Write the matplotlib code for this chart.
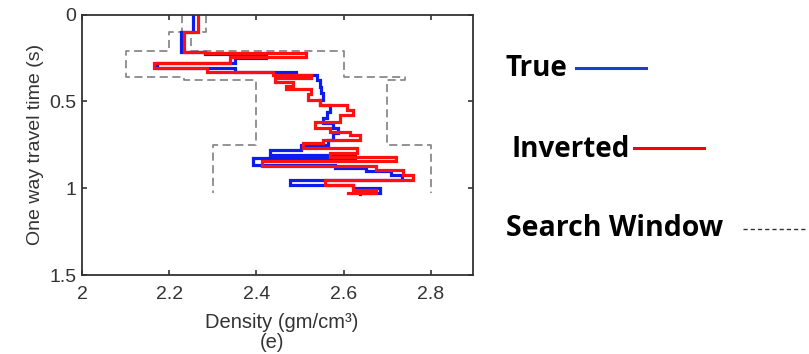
import matplotlib
matplotlib.use("Agg")
import matplotlib.pyplot as plt
import numpy as np

# Layered density profiles: layer top times (s) and layer densities (gm/cm^3)
true_tops = [0.000, 0.103, 0.214, 0.227, 0.252, 0.277, 0.310, 0.329, 0.348, 0.377,
             0.415, 0.453, 0.492, 0.521, 0.559, 0.597, 0.626, 0.655, 0.684, 0.722,
             0.751, 0.779, 0.808, 0.827, 0.866, 0.885, 0.904, 0.923, 0.952, 0.981,
             1.000, 1.025]
true_vals = [2.255, 2.227, 2.282, 2.423, 2.351, 2.171, 2.351, 2.492, 2.540, 2.545,
             2.549, 2.553, 2.545, 2.568, 2.561, 2.553, 2.576, 2.588, 2.576, 2.565,
             2.503, 2.431, 2.626, 2.393, 2.580, 2.652, 2.710, 2.733, 2.477, 2.622,
             2.683, 2.637]
true_end = 1.032

inv_tops = [0.000, 0.103, 0.214, 0.223, 0.246, 0.277, 0.310, 0.329, 0.348, 0.367,
            0.386, 0.411, 0.431, 0.459, 0.492, 0.521, 0.549, 0.578, 0.617, 0.655,
            0.674, 0.693, 0.722, 0.741, 0.770, 0.799, 0.818, 0.843, 0.870, 0.895,
            0.923, 0.952, 0.981, 1.010, 1.025]
inv_vals = [2.267, 2.235, 2.282, 2.515, 2.339, 2.165, 2.286, 2.438, 2.526, 2.442,
            2.484, 2.469, 2.526, 2.519, 2.545, 2.607, 2.622, 2.591, 2.534, 2.568,
            2.614, 2.637, 2.553, 2.507, 2.630, 2.568, 2.721, 2.412, 2.675, 2.736,
            2.759, 2.557, 2.622, 2.675, 2.610]
inv_end = 1.030

# Search window bounds
win_tops = [0.0, 0.10, 0.21, 0.36, 0.38, 0.75]
win_low = [2.23, 2.20, 2.10, 2.235, 2.40, 2.30]
win_high = [2.285, 2.25, 2.60, 2.74, 2.70, 2.80]
win_end = 1.025

x_ticks = [2.0, 2.2, 2.4, 2.6, 2.8]
x_labels = ["2", "2.2", "2.4", "2.6", "2.8"]
y_ticks = [0.0, 0.5, 1.0, 1.5]
y_labels = ["0", "0.5", "1", "1.5"]


def staircase(tops, vals, end):
    bots = list(tops[1:]) + [end]
    xs, ys = [], []
    for v, t0, t1 in zip(vals, tops, bots):
        xs += [v, v]
        ys += [t0, t1]
    return np.array(xs), np.array(ys)


fig = plt.figure(figsize=(8.09, 3.54), dpi=100)
ax = fig.add_axes([82 / 809, 1 - 275 / 354, 391 / 809, 260.5 / 354])

gray = "#8a8a8a"
for bound in (win_low, win_high):
    xs, ys = staircase(win_tops, bound, win_end)
    ax.plot(xs, ys, color=gray, lw=1.3, ls=(0, (4.5, 2.5)))

xs, ys = staircase(true_tops, true_vals, true_end)
ax.plot(xs, ys, color="#0a1cf0", lw=2.3, solid_joinstyle="miter")
xs, ys = staircase(inv_tops, inv_vals, inv_end)
ax.plot(xs, ys, color="#ff1010", lw=2.3, solid_joinstyle="miter")

ax.set_xlim(2.0, 2.897)
ax.set_ylim(1.5, 0.0)
ax.set_xticks(x_ticks)
ax.set_xticklabels(x_labels)
ax.set_yticks(y_ticks)
ax.set_yticklabels(y_labels)
ax.tick_params(direction="in", top=True, right=True, length=3.5, width=1.2,
               labelsize=14, colors="#333333", pad=4)
ax.tick_params(axis="x", pad=8)
for lab in ax.get_xticklabels() + ax.get_yticklabels():
    lab.set_family("Liberation Sans")
for s in ax.spines.values():
    s.set_linewidth(1.3)
    s.set_color("#333333")

ax.set_ylabel("One way travel time (s)", fontsize=14, family="Liberation Sans",
              color="#333333", labelpad=4)
fig.text(282 / 809, 1 - 322 / 354, "Density (gm/cm\u00b3)", ha="center", va="center",
         fontsize=14.5, family="Liberation Sans", color="#333333")
fig.text(272 / 809, 1 - 343 / 354, "(e)", ha="center", va="center",
         fontsize=14.5, family="Liberation Sans", color="#333333")

# Legend drawn as free text with line swatches
fig.text(505 / 809, 1 - 69 / 354, "True", ha="left", va="center",
         fontsize=20, fontweight="bold", family="Open Sans")
fig.text(511 / 809, 1 - 149 / 354, "Inverted", ha="left", va="center",
         fontsize=20, fontweight="bold", family="Open Sans")
fig.text(506 / 809, 1 - 229 / 354, "Search Window", ha="left", va="center",
         fontsize=20.5, fontweight="bold", family="Open Sans")
fig.add_artist(plt.Line2D([576 / 809, 646 / 809], [1 - 68 / 354] * 2,
                          color="#1144cc", lw=2.2, transform=fig.transFigure))
fig.add_artist(plt.Line2D([634 / 809, 704 / 809], [1 - 148 / 354] * 2,
                          color="#ff0000", lw=2.2, transform=fig.transFigure))
fig.add_artist(plt.Line2D([743 / 809, 808 / 809], [1 - 229 / 354] * 2,
                          color="#333333", lw=1.0, ls=(0, (3, 2.2)),
                          transform=fig.transFigure))

fig.savefig("out.png", dpi=100)
